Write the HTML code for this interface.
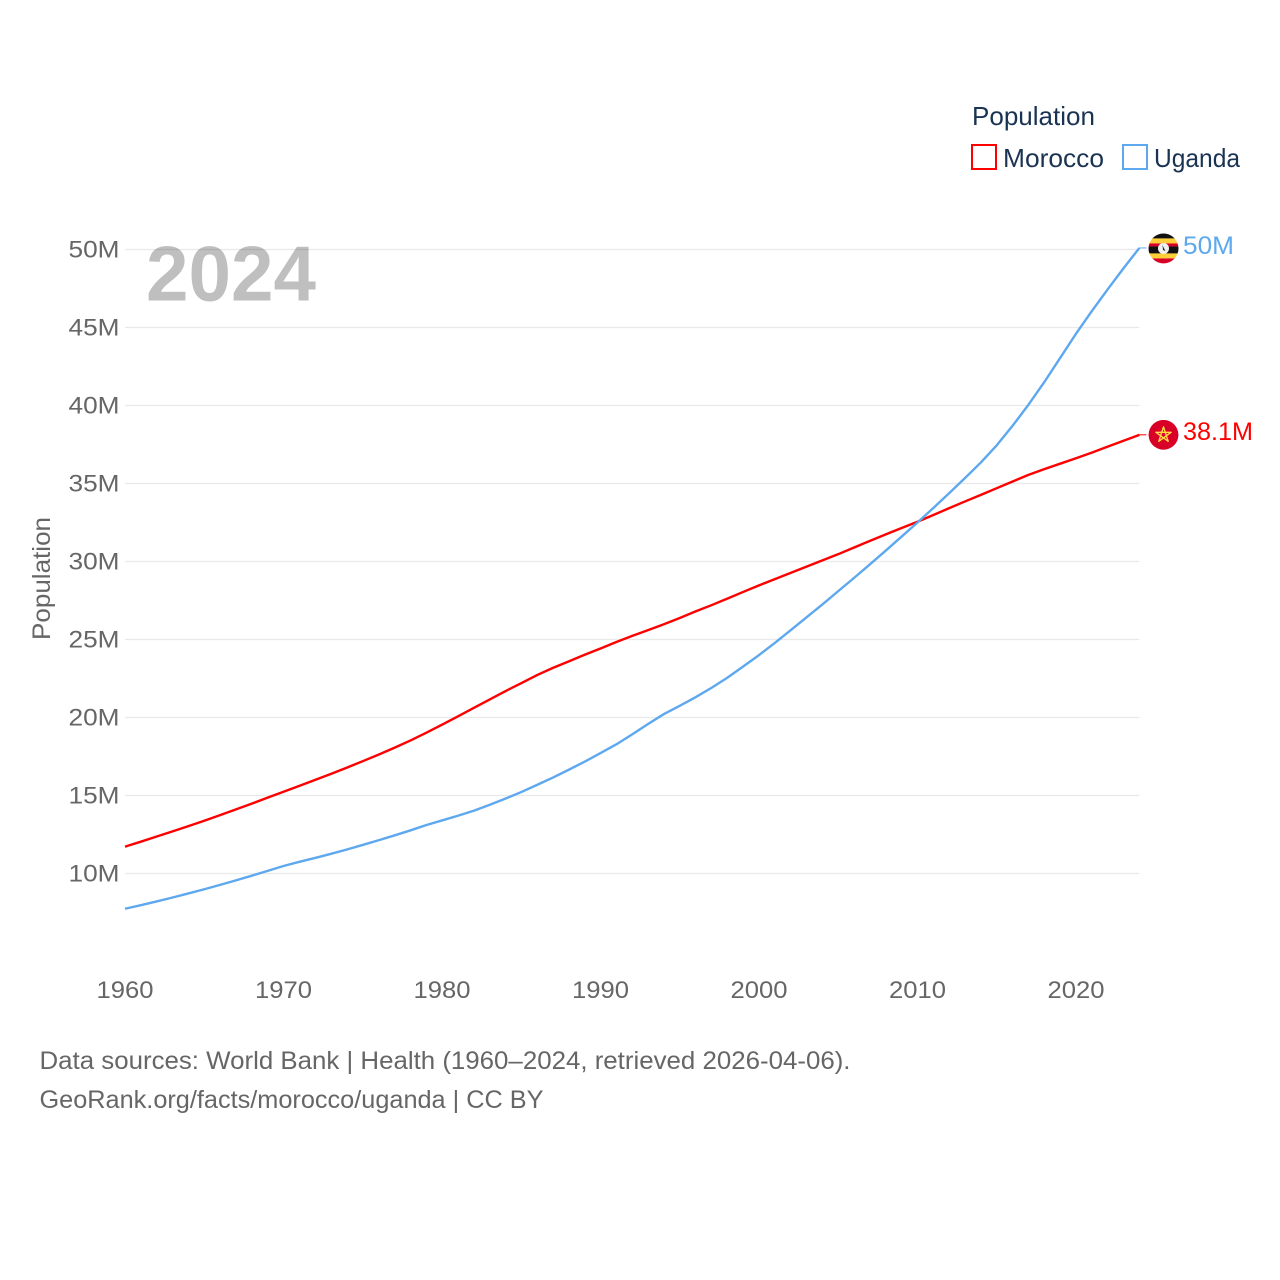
<!DOCTYPE html>
<html lang="en">
<head>
<meta charset="utf-8">
<title>Population: Morocco and Uganda</title>
<style>
html,body{margin:0;padding:0;background:#fff;}
svg{display:block;font-family:"Liberation Sans",sans-serif;}
</style>
</head>
<body>
<svg id="chart" xmlns="http://www.w3.org/2000/svg" width="1280" height="1280" viewBox="0 0 1280 1280">
  <rect width="1280" height="1280" fill="#fff"/>
  <g id="grid"></g>
  <g id="yticks"></g>
  <g id="xticks"></g>
  <text transform="translate(50,578.5) rotate(-90)" text-anchor="middle" font-size="25" fill="#666" textLength="123" lengthAdjust="spacingAndGlyphs">Population</text>
  <text x="146" y="300.5" font-size="78" font-weight="700" fill="#000" fill-opacity="0.25" textLength="170" lengthAdjust="spacingAndGlyphs">2024</text>
  <g id="series"></g>
  <g id="ends"></g>

  <defs>
    <clipPath id="flag-clip"><circle cx="0" cy="0" r="15"/></clipPath>
  </defs>

  <g>
    <text x="972" y="125" font-size="26" fill="#1b3353" textLength="123" lengthAdjust="spacingAndGlyphs">Population</text>
    <g>
      <rect x="972" y="145" width="24" height="24" fill="none" stroke="#ff0000" stroke-width="2"/>
      <text x="1003" y="167" font-size="26" fill="#1b3353" textLength="101" lengthAdjust="spacingAndGlyphs">Morocco</text>
    </g>
    <g>
      <rect x="1123" y="145" width="24" height="24" fill="none" stroke="#5da8ee" stroke-width="2"/>
      <text x="1154" y="167" font-size="26" fill="#1b3353" textLength="86" lengthAdjust="spacingAndGlyphs">Uganda</text>
    </g>
  </g>

  <g>
    <text x="39.5" y="1069" font-size="25" fill="#666" textLength="811" lengthAdjust="spacingAndGlyphs">Data sources: World Bank | Health (1960–2024, retrieved 2026-04-06).</text>
    <text x="39.5" y="1108" font-size="25" fill="#666" textLength="504" lengthAdjust="spacingAndGlyphs">GeoRank.org/facts/morocco/uganda | CC BY</text>
  </g>
</svg>
<script>
const startYear = 1960;
const yTickValues = [10, 15, 20, 25, 30, 35, 40, 45, 50];
const yTickLabels = ["10M", "15M", "20M", "25M", "30M", "35M", "40M", "45M", "50M"];
const xTickYears = [1960, 1970, 1980, 1990, 2000, 2010, 2020];
const xTickLabels = ["1960", "1970", "1980", "1990", "2000", "2010", "2020"];
const moroccoValues = [11.72,12.04,12.37,12.70,13.04,13.38,13.74,14.11,14.48,14.86,15.24,15.62,16.00,16.39,16.79,17.20,17.62,18.06,18.52,19.02,19.54,20.07,20.61,21.15,21.69,22.20,22.72,23.18,23.60,24.02,24.42,24.84,25.23,25.60,25.98,26.38,26.80,27.20,27.62,28.05,28.47,28.87,29.27,29.67,30.07,30.47,30.90,31.32,31.74,32.15,32.55,32.98,33.42,33.85,34.27,34.70,35.13,35.55,35.92,36.27,36.62,36.98,37.36,37.74,38.12];
const ugandaValues = [7.74,7.97,8.21,8.46,8.72,8.99,9.27,9.56,9.86,10.17,10.48,10.75,11.00,11.26,11.54,11.83,12.13,12.44,12.76,13.10,13.40,13.70,14.02,14.40,14.80,15.22,15.68,16.15,16.65,17.17,17.72,18.28,18.92,19.58,20.22,20.75,21.30,21.90,22.55,23.27,24.00,24.78,25.60,26.42,27.25,28.10,28.95,29.82,30.70,31.60,32.50,33.43,34.38,35.35,36.35,37.45,38.70,40.05,41.50,43.05,44.60,46.05,47.45,48.80,50.10];
const moroccoEndLabel = "38.1M";
const ugandaEndLabel = "50M";

const NS = "http://www.w3.org/2000/svg";
const xScale = function (year) { return 125 + (year - 1960) * 15.85; };
const yScale = function (v) { return 873.5 - (v - 10) * 15.6; };
const plotRight = xScale(startYear + ugandaValues.length - 1);

function make(tag, attrs, parent, text) {
  const el = document.createElementNS(NS, tag);
  for (const k in attrs) el.setAttribute(k, attrs[k]);
  if (text !== undefined) el.textContent = text;
  parent.appendChild(el);
  return el;
}

const gridGroup = document.getElementById("grid");
const yGroup = document.getElementById("yticks");
yTickValues.forEach(function (v, i) {
  const line = make("line", { x1: 125, x2: plotRight, y1: yScale(v), y2: yScale(v), stroke: "#e9e9e9", "stroke-width": 1.2 }, gridGroup);
  
  
  const label = make("text", { x: 119.5, y: yScale(v) + 8, "text-anchor": "end", "font-size": 24, fill: "#666", textLength: 51, lengthAdjust: "spacingAndGlyphs" }, yGroup, yTickLabels[i]);
  
  
});

const xGroup = document.getElementById("xticks");
xTickYears.forEach(function (year, i) {
  const label = make("text", { x: xScale(year), y: 998, "text-anchor": "middle", "font-size": 24, fill: "#666", textLength: 57, lengthAdjust: "spacingAndGlyphs" }, xGroup, xTickLabels[i]);
  
  
});

function pathFrom(values) {
  return values.map(function (v, i) {
    return (i ? "L" : "M") + xScale(startYear + i).toFixed(2) + " " + yScale(v).toFixed(2);
  }).join(" ");
}

const seriesGroup = document.getElementById("series");
const moroccoLine = make("path", { d: pathFrom(moroccoValues), fill: "none", stroke: "#ff0000", "stroke-width": 2.4, "stroke-linejoin": "round" }, seriesGroup);


const ugandaLine = make("path", { d: pathFrom(ugandaValues), fill: "none", stroke: "#5da8ee", "stroke-width": 2.4, "stroke-linejoin": "round" }, seriesGroup);



const endsGroup = document.getElementById("ends");

const moroccoLast = yScale(moroccoValues[moroccoValues.length - 1]);
const moroccoLeader = make("line", { x1: plotRight, x2: plotRight + 7, y1: moroccoLast, y2: moroccoLast, stroke: "#ff0000", "stroke-width": 1 }, endsGroup);


const moroccoFlag = make("g", { transform: "translate(1163.5," + moroccoLast + ")", "clip-path": "url(#flag-clip)" }, endsGroup);


make("circle", { r: 15, fill: "#d80027" }, moroccoFlag);
make("polygon", { points: "0,-8 4.7,6.5 -7.6,-2.5 7.6,-2.5 -4.7,6.5", fill: "none", stroke: "#ffda44", "stroke-width": 1.4, "stroke-linejoin": "round" }, moroccoFlag);
const moroccoText = make("text", { x: 1183, y: moroccoLast + 5, "font-size": 25, fill: "#ff0000", textLength: 70, lengthAdjust: "spacingAndGlyphs" }, endsGroup, moroccoEndLabel);



const ugandaLast = yScale(ugandaValues[ugandaValues.length - 1]);
const ugandaLeader = make("line", { x1: plotRight, x2: plotRight + 7, y1: ugandaLast, y2: ugandaLast, stroke: "#5da8ee", "stroke-width": 1 }, endsGroup);


const ugandaFlag = make("g", { transform: "translate(1163.5," + (ugandaLast + 0.5) + ")", "clip-path": "url(#flag-clip)" }, endsGroup);


make("rect", { x: -15, y: -15, width: 30, height: 5, fill: "#111" }, ugandaFlag);
make("rect", { x: -15, y: -10, width: 30, height: 5, fill: "#ffcf3a" }, ugandaFlag);
make("rect", { x: -15, y: -5, width: 30, height: 3, fill: "#d80027" }, ugandaFlag);
make("rect", { x: -15, y: -2, width: 30, height: 7, fill: "#111" }, ugandaFlag);
make("rect", { x: -15, y: 5, width: 30, height: 5, fill: "#ffcf3a" }, ugandaFlag);
make("rect", { x: -15, y: 10, width: 30, height: 5, fill: "#d80027" }, ugandaFlag);
make("circle", { r: 5.5, fill: "#f0f0f0" }, ugandaFlag);
make("path", { d: "M-1 -3.5 L0.3 -0.5 L2 2.5 L-0.5 1.5 Z", fill: "#222" }, ugandaFlag);
const ugandaText = make("text", { x: 1183, y: ugandaLast + 6, "font-size": 25, fill: "#5da8ee", textLength: 51, lengthAdjust: "spacingAndGlyphs" }, endsGroup, ugandaEndLabel);


</script>
</body>
</html>
